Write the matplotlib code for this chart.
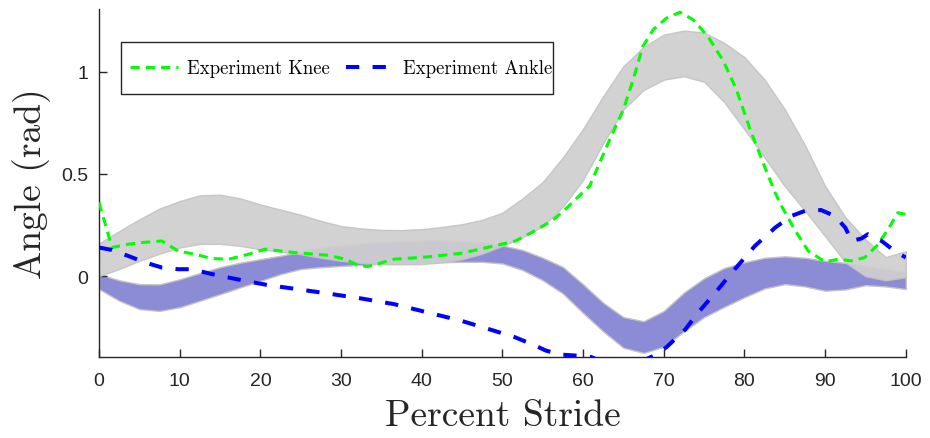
import numpy as np
import matplotlib
matplotlib.use("Agg")
import matplotlib.pyplot as plt
from matplotlib.patches import Rectangle

# model bands (percent stride grid, 2.5 step)
stride = np.arange(0, 100.1, 2.5)
knee_hi = [0.16, 0.22, 0.278, 0.33, 0.367, 0.395, 0.398, 0.38, 0.35, 0.325, 0.30,
           0.27, 0.245, 0.233, 0.226, 0.225, 0.23, 0.24, 0.254, 0.275, 0.31,
           0.38, 0.46, 0.58, 0.72, 0.88, 1.026, 1.12, 1.18, 1.20, 1.19,
           1.14, 1.07, 0.96, 0.815, 0.64, 0.44, 0.288, 0.18, 0.093, 0.122]
knee_lo = [0.00, 0.035, 0.075, 0.11, 0.14, 0.158, 0.158, 0.148, 0.132, 0.12, 0.107,
           0.09, 0.075, 0.065, 0.059, 0.058, 0.059, 0.068, 0.083, 0.11, 0.148,
           0.19, 0.245, 0.34, 0.47, 0.65, 0.815, 0.91, 0.96, 0.977, 0.95,
           0.85, 0.717, 0.58, 0.44, 0.32, 0.195, 0.068, 0.0, -0.02, -0.005]
ankle_hi = [0.01, -0.02, -0.039, -0.04, -0.015, 0.015, 0.044, 0.066, 0.083, 0.10, 0.12,
            0.14, 0.15, 0.16, 0.165, 0.17, 0.175, 0.175, 0.172, 0.165, 0.15,
            0.128, 0.09, 0.045, -0.04, -0.13, -0.20, -0.22, -0.17, -0.08, -0.01,
            0.04, 0.068, 0.09, 0.097, 0.09, 0.075, 0.065, 0.05, 0.035, 0.02]
ankle_lo = [-0.063, -0.12, -0.161, -0.17, -0.152, -0.12, -0.088, -0.055, -0.023, 0.01, 0.035,
            0.044, 0.05, 0.055, 0.06, 0.062, 0.065, 0.068, 0.07, 0.07, 0.062,
            0.03, -0.02, -0.085, -0.18, -0.27, -0.35, -0.375, -0.345, -0.27, -0.20,
            -0.15, -0.103, -0.06, -0.039, -0.05, -0.071, -0.065, -0.044, -0.05, -0.063]

# experiment curves
knee_x = [0, 1.6, 3.6, 5.5, 7.8, 9.8, 11.9, 14, 16.1, 18.5, 20.6, 24.3, 28.4, 30.5, 32.1,
          33.3, 36.6, 40.7, 44.9, 49, 51.6, 53.6, 56.1, 57.6, 59.5, 60.8, 63.3, 65, 66.2,
          67.4, 68.7, 70.3, 72, 73.6, 75.5, 77.4, 79, 80.7, 82.3, 83.8, 84.6, 86.2, 87.9,
          90, 91.6, 93.3, 94.9, 96.4, 97.8, 99, 100]
knee_y = [0.36, 0.14, 0.156, 0.165, 0.172, 0.123, 0.107, 0.086, 0.083, 0.107, 0.132, 0.115,
          0.102, 0.083, 0.054, 0.047, 0.083, 0.094, 0.112, 0.148, 0.172, 0.213, 0.27, 0.319,
          0.392, 0.44, 0.668, 0.815, 0.96, 1.123, 1.205, 1.26, 1.29, 1.254, 1.17, 1.05,
          0.912, 0.717, 0.555, 0.408, 0.343, 0.229, 0.123, 0.07, 0.083, 0.075, 0.091,
          0.148, 0.229, 0.31, 0.302]
ankle_x = [0, 1.6, 3.6, 5.7, 7.8, 9.8, 11.5, 14, 16.1, 18.1, 21, 24.5, 28.4, 32.5, 36.6,
           40.7, 44.9, 49, 51.6, 54.1, 55.4, 57.5, 59.5, 61, 63, 65, 67, 68.7, 70.3, 72.7,
           74, 76.4, 78.8, 81.3, 83.8, 85.8, 87.5, 89.5, 91.2, 92.5, 93.3, 94.5, 95.3, 97,
           98.6, 100]
ankle_y = [0.14, 0.128, 0.099, 0.067, 0.042, 0.034, 0.034, 0.01, -0.007, -0.023, -0.044,
           -0.063, -0.085, -0.109, -0.137, -0.177, -0.218, -0.267, -0.299, -0.34, -0.364,
           -0.384, -0.389, -0.395, -0.43, -0.44, -0.42, -0.39, -0.348, -0.259, -0.19,
           -0.08, 0.034, 0.148, 0.237, 0.294, 0.319, 0.323, 0.294, 0.237, 0.172, 0.184,
           0.205, 0.172, 0.123, 0.091]

SERIF = "cmr10"
SANS = "Liberation Sans"
INK = "#262626"

fig = plt.figure(figsize=(9.3, 4.39), dpi=100)
ax = fig.add_axes([0.1065, 0.1845, 0.8675, 0.7925])

ax.fill_between(stride, ankle_lo, ankle_hi, color="#8c8cd6", edgecolor="#c4c4c4", lw=1.0, zorder=1)
ax.fill_between(stride, knee_lo, knee_hi, color="#cfcfcf", alpha=0.92, edgecolor="#c4c4c4", lw=1.0, zorder=2)

ax.plot(knee_x, knee_y, color="#00ff00", lw=2.2, ls=(0, (3, 2)), label="Experiment Knee", zorder=3)
ax.plot(ankle_x, ankle_y, color="#0000ff", lw=2.9, ls=(0, (3.3, 3.3)), label="Experiment Ankle", zorder=4)

ax.set_xlim(0, 100)
ax.set_ylim(-0.395, 1.305)
ax.set_xticks(np.arange(0, 101, 10))
ax.set_yticks([0, 0.5, 1])
ax.set_yticklabels(["0", "0.5", "1"])
ax.tick_params(direction="in", length=6, width=1, colors=INK, labelsize=14)
ax.tick_params(axis="x", pad=11)
ax.tick_params(axis="y", pad=8)
for lab in ax.get_xticklabels() + ax.get_yticklabels():
    lab.set_family(SANS)
for s in ["top", "right"]:
    ax.spines[s].set_visible(False)
for s in ["left", "bottom"]:
    ax.spines[s].set_color(INK)
    ax.spines[s].set_linewidth(1.0)

ax.set_xlabel("Percent Stride", family=SERIF, fontsize=27, color=INK, labelpad=7)
ax.set_ylabel("Angle (rad)", family=SERIF, fontsize=27, color=INK, labelpad=7)

# legend frame drawn by hand so its size can match the reference box
ax.add_patch(Rectangle((0.027, 0.756), 0.5356, 0.149, transform=ax.transAxes,
                       facecolor="white", edgecolor=INK, lw=1.0, zorder=5))
leg = ax.legend(loc="center left", bbox_to_anchor=(0.027 + 9 / 807, 0.8305),
                ncol=2, prop={"family": SERIF, "size": 13.5}, frameon=False,
                handlelength=2.55, handletextpad=0.48, columnspacing=0.9,
                borderpad=0, borderaxespad=0)
leg.set_zorder(6)

fig.savefig("out.png", dpi=100)
